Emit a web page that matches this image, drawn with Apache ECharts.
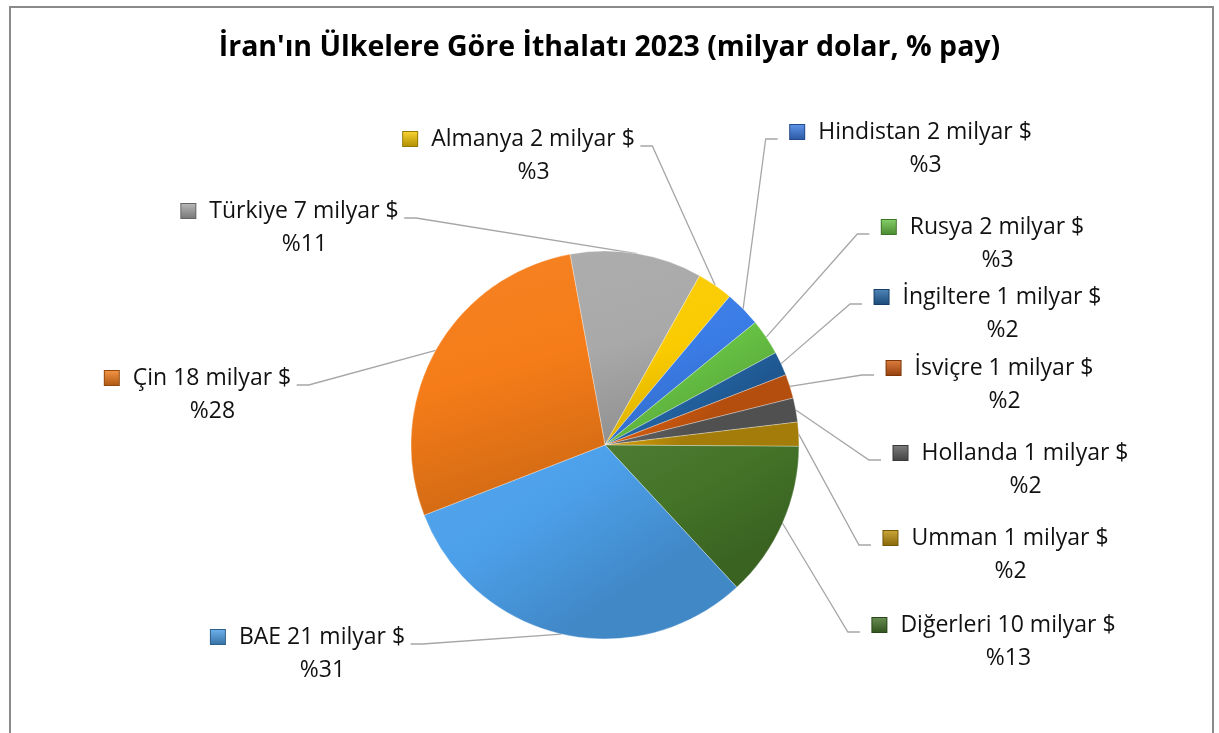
<!DOCTYPE html>
<html>
<head>
<meta charset="utf-8">
<title>İran'ın Ülkelere Göre İthalatı 2023</title>
<script src="https://cdn.jsdelivr.net/npm/echarts@6/dist/echarts.min.js"></script>
<style>
  html, body { margin: 0; padding: 0; background: #fff; }
  #chart { width: 1219px; height: 733px; }
</style>
</head>
<body>
<div id="chart"></div>
<script>
  // ülkeler (saat yönünde, Türkiye'den başlayarak)
  const countries = ['Türkiye', 'Almanya', 'Hindistan', 'Rusya', 'İngiltere', 'İsviçre',
    'Hollanda', 'Umman', 'Diğerleri', 'BAE', 'Çin']
  // ithalat, milyar $
  const billions = [7, 2, 2, 2, 1, 1, 1, 1, 10, 21, 18]
  // pay, %
  const shares = [11, 3, 3, 3, 2, 2, 2, 2, 13, 31, 28]

  // renkler
  const colors = ['#A9A9A9', '#FACB00', '#3A7CE6', '#68C444', '#2468AA', '#D45C10',
    '#5E5E5E', '#C0920A', '#447428', '#4CA0EA', '#F57C18']

  // etiket yerleşimi: [blok merkezi x, ilk satır y]
  const labelPos = [
    [290, 211], [519, 139], [911, 132], [983, 227], [988, 297], [990, 368],
    [1011, 453], [996, 538], [994, 625], [308, 637], [198, 378]
  ]
  const pieCenter = [605, 445]
  const lineH = 33

  // renk açma/koyulaştırma
  function shade(hex, f) {
    const n = parseInt(hex.slice(1), 16)
    let r = (n >> 16) & 255, g = (n >> 8) & 255, b = n & 255
    const t = f < 0 ? 0 : 255
    const p = Math.abs(f)
    r = Math.round((t - r) * p + r)
    g = Math.round((t - g) * p + g)
    b = Math.round((t - b) * p + b)
    return 'rgb(' + r + ',' + g + ',' + b + ')'
  }

  const rich = {
    t: { fontFamily: 'Open Sans', fontSize: 23, color: '#111', padding: [0, 0, 0, 14], align: 'center', lineHeight: lineH },
    p: { fontFamily: 'Open Sans', fontSize: 23, color: '#111', padding: [0, 0, 0, 29], align: 'center', lineHeight: lineH }
  }
  colors.forEach((c, i) => {
    rich['k' + i] = {
      width: 14, height: 14, align: 'center',
      backgroundColor: { type: 'linear', x: 0, y: 0, x2: 0, y2: 1,
        colorStops: [{ offset: 0, color: shade(c, 0.2) }, { offset: 1, color: shade(c, -0.3) }] },
      borderColor: shade(c, -0.4), borderWidth: 1
    }
  })

  const seriesData = countries.map((name, i) => ({
    name: name,
    value: shares[i],
    itemStyle: {
      color: {
        type: 'linear', x: 0, y: 0, x2: 0.4, y2: 1,
        colorStops: [
          { offset: 0, color: shade(colors[i], 0.05) },
          { offset: 0.5, color: colors[i] },
          { offset: 1, color: shade(colors[i], -0.15) }
        ]
      }
    }
  }))

  const chart = echarts.init(document.getElementById('chart'))
  const option = {
    animation: false,
    title: {
      text: "İran'ın Ülkelere Göre İthalatı 2023 (milyar dolar, % pay)",
      left: 'center',
      top: 28,
      textStyle: { fontFamily: 'Open Sans', fontWeight: 'bold', fontSize: 28.5, color: '#000' }
    },
    graphic: [{
      type: 'rect',
      shape: { x: 10, y: 7, width: 1203, height: 740 },
      style: { fill: 'none', stroke: '#8A8A8A', lineWidth: 2 },
      silent: true
    }],
    series: [{
      type: 'pie',
      center: pieCenter,
      radius: 194,
      startAngle: 100.4,
      clockwise: true,
      avoidLabelOverlap: false,
      data: seriesData,
      itemStyle: { borderColor: 'rgba(255,255,255,0.3)', borderWidth: 1 },
      label: {
        show: true,
        position: 'outside',
        formatter: p => '{k' + p.dataIndex + '|}{t|' + p.name + ' ' + billions[p.dataIndex] +
          ' milyar $}\n{p|%' + shares[p.dataIndex] + '}',
        rich: rich
      },
      labelLine: {
        show: true,
        lineStyle: { color: '#A6A6A6', width: 1.3 }
      },
      labelLayout: function (params) {
        const i = params.dataIndex
        const pos = labelPos[i]
        const w = params.labelRect.width
        const right = pos[0] > pieCenter[0]
        const ly = pos[1] + 7
        const endX = right ? pos[0] - w / 2 - 12 : pos[0] + w / 2 + 5
        const elbowX = right ? endX - 12 : endX + 12
        const start = params.labelLinePoints ? params.labelLinePoints[0] : [elbowX, ly]
        return {
          x: pos[0],
          y: pos[1] - lineH / 2,
          align: 'center',
          verticalAlign: 'top',
          labelLinePoints: [start, [elbowX, ly], [endX, ly]]
        }
      }
    }]
  }
  chart.setOption(option)
</script>
</body>
</html>
